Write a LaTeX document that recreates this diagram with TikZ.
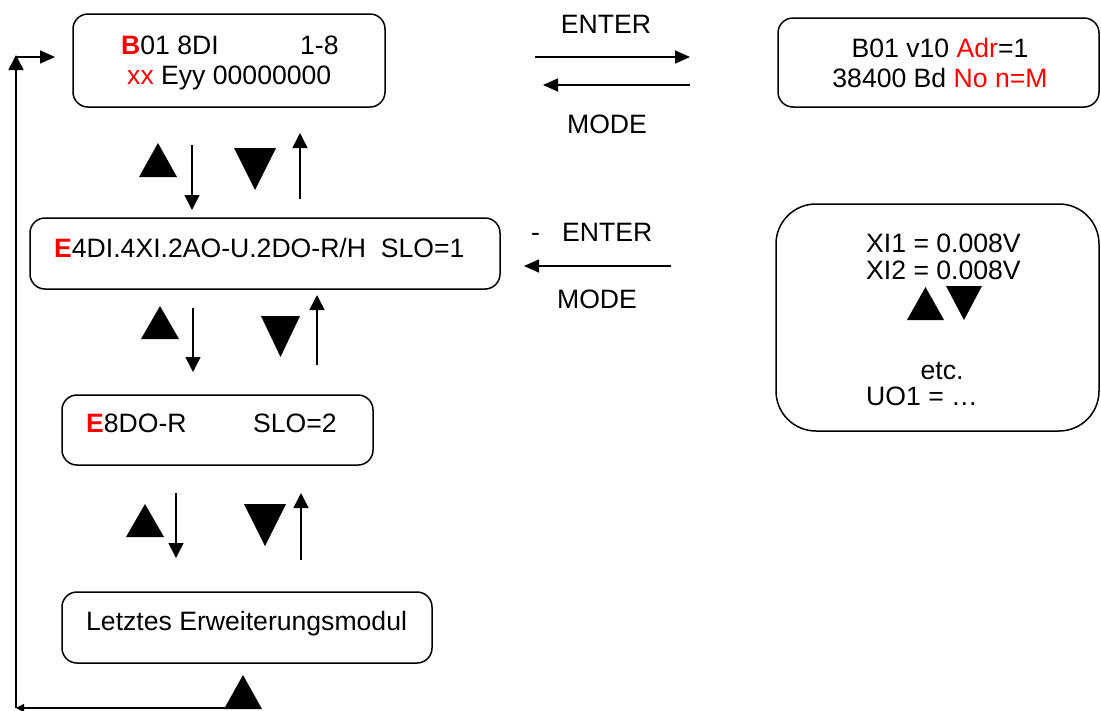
\documentclass[tikz,border=0pt]{standalone}
\usepackage{fontspec}
\setmainfont{Liberation Sans}
\usetikzlibrary{arrows.meta}
\begin{document}
\begin{tikzpicture}[x=1pt,y=-1pt,
  box/.style={draw,line width=1.5pt,rounded corners=15pt,inner sep=0pt},
  txt/.style={inner sep=0pt,anchor=base west,font=\fontsize{26.6}{30}\selectfont},
  ctxt/.style={inner sep=0pt,anchor=base,font=\fontsize{26.6}{30}\selectfont},
  arr/.style={line width=1.5pt,-{Triangle[length=15pt,width=15pt]}},
  harr/.style={line width=1.5pt,-{Triangle[length=15pt,width=13pt]}},
  tri/.style={fill=black}]
\useasboundingbox (0,0) rectangle (1101,710);
\colorlet{rd}{red}
% boxes
\node[box,minimum width=312pt,minimum height=93pt] (b1) at (229,60.5) {};
\node[box,minimum width=321pt,minimum height=89pt] (b2) at (938.5,62.5) {};
\node[box,minimum width=470pt,minimum height=71pt] (b3) at (265,253.5) {};
\node[box,minimum width=323pt,minimum height=227pt,rounded corners=40pt] (b4) at (937.5,317.5) {};
\node[box,minimum width=311pt,minimum height=70pt] (b5) at (217.5,430) {};
\node[box,minimum width=370pt,minimum height=71pt] (b6) at (247,627.5) {};
% texts
\node[txt] (t1a) at (121,54) {\textcolor{rd}{\textbf{B}}01 8DI};
\node[txt] (t1b) at (300,54) {1-8};
\node[txt] (t1c) at (127,84) {\textcolor{rd}{xx} Eyy 00000000};
\node[ctxt] (t2a) at (940,57) {B01 v10 \textcolor{rd}{Adr}=1};
\node[ctxt] (t2b) at (940,87) {38400 Bd \textcolor{rd}{No n=M}};
\node[txt] (t3) at (54,257) {\textcolor{rd}{\textbf{E}}4DI.4XI.2AO-U.2DO-R/H\ \ SLO=1};
\node[txt] (t4a) at (866,252) {XI1 = 0.008V};
\node[txt] (t4b) at (866,279) {XI2 = 0.008V};
\node[ctxt] (t4c) at (942,379) {etc.};
\node[txt] (t4d) at (866,405) {UO1 = \ldots};
\node[txt] (t5a) at (86,432) {\textcolor{rd}{\textbf{E}}8DO-R};
\node[txt] (t5b) at (253,432) {SLO=2};
\node[txt] (t6) at (86,630) {Letztes Erweiterungsmodul};
\node[ctxt] (enter1) at (606,33) {ENTER};
\node[ctxt] (mode1) at (607,133) {MODE};
\node[txt] (enter2) at (531,241) {-\ \ \ ENTER};
\node[ctxt] (mode2) at (597,308) {MODE};
% horizontal arrows
\coordinate (e1s) at (535,57); \coordinate (e1e) at (690,57);
\coordinate (m1s) at (690,85); \coordinate (m1e) at (543,85);
\coordinate (m2s) at (671,266); \coordinate (m2e) at (524,266);
\draw[harr] (e1s) -- (e1e);
\draw[harr] (m1s) -- (m1e);
\draw[harr] (m2s) -- (m2e);
% vertical arrows
\coordinate (d1s) at (192,145); \coordinate (d1e) at (192,210);
\coordinate (u1s) at (300,199); \coordinate (u1e) at (300,133);
\coordinate (d2s) at (193,308); \coordinate (d2e) at (193,372);
\coordinate (u2s) at (317,365); \coordinate (u2e) at (317,295);
\coordinate (d3s) at (176,493); \coordinate (d3e) at (176,558);
\coordinate (u3s) at (301,560); \coordinate (u3e) at (301,493);
\draw[arr] (d1s) -- (d1e);
\draw[arr] (u1s) -- (u1e);
\draw[arr] (d2s) -- (d2e);
\draw[arr] (u2s) -- (u2e);
\draw[arr] (d3s) -- (d3e);
\draw[arr] (u3s) -- (u3e);
% loop
\coordinate (lb) at (235,708);
\coordinate (lc) at (16,708);
\coordinate (lt) at (16,55);
\coordinate (lh) at (16,57);
\coordinate (lr) at (55,57);
\draw[line width=1.5pt,-{Triangle[length=8pt,width=8pt]}] (lb) -- (lc);
\draw[arr] (lc) -- (lt);
\draw[harr] (lh) -- (lr);
% triangles
\fill[tri] (139,177) -- (177,177) -- (158,143) -- cycle;
\fill[tri] (234,148) -- (276,148) -- (255,190) -- cycle;
\fill[tri] (141,339) -- (179,339) -- (160,306) -- cycle;
\fill[tri] (261,316) -- (300,316) -- (280.5,357) -- cycle;
\fill[tri] (126,537) -- (164,537) -- (145,504) -- cycle;
\fill[tri] (244,504) -- (286,504) -- (265,546) -- cycle;
\fill[tri] (224,709) -- (262,709) -- (243,675) -- cycle;
\fill[tri] (907,320) -- (944,320) -- (925.5,287) -- cycle;
\fill[tri] (946,286) -- (982,286) -- (964,320) -- cycle;
\end{tikzpicture}
\end{document}
